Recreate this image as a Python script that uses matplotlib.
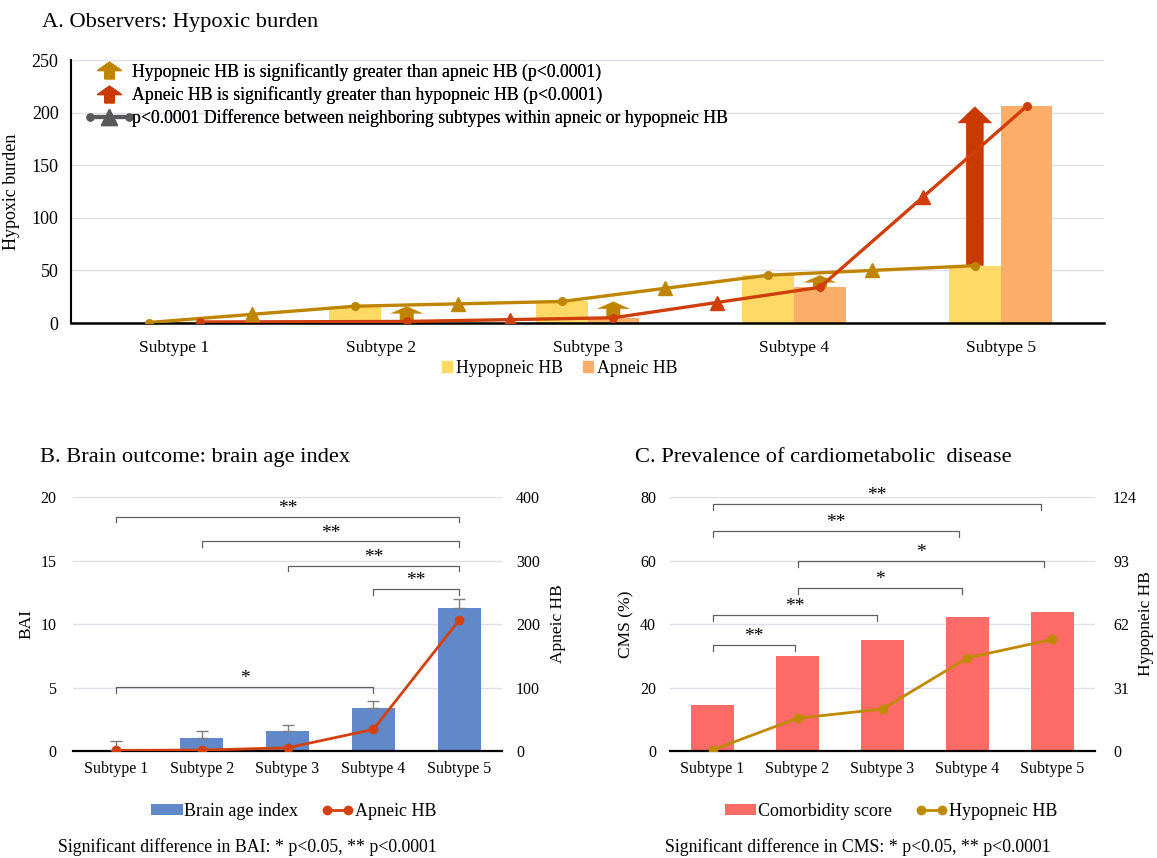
import numpy as np
import matplotlib.pyplot as plt
from matplotlib.lines import Line2D
from matplotlib.patches import Patch
from matplotlib.path import Path
from matplotlib.legend_handler import HandlerBase

plt.rcParams['font.family'] = ['Liberation Serif', 'DejaVu Serif']

subtypes = ["Subtype 1", "Subtype 2", "Subtype 3", "Subtype 4", "Subtype 5"]

# hypoxic burden per subtype
hypopneic_hb = [0.5, 16, 20.5, 45.5, 54.5]
apneic_hb = [1.0, 1.5, 5.0, 34, 206]

# subtypes where one HB type is significantly larger than the other
hypo_greater = [1, 2, 3]
apneic_greater = [4]

# neighbouring subtype steps with p<0.0001
hypo_steps = [(0, 1), (1, 2), (2, 3), (3, 4)]
apneic_steps = [(1, 2), (2, 3), (3, 4)]

# brain age index
bai = [0.1, 1.0, 1.6, 3.4, 11.3]
bai_err = [0.65, 0.55, 0.45, 0.5, 0.7]
bai_pairs = [(0, 4, "**"), (1, 4, "**"), (2, 4, "**"), (3, 4, "**"), (0, 3, "*")]

# comorbidity score (%)
cms = [14.5, 29.8, 35.1, 42.2, 43.9]
cms_pairs = [(0, 4, "**"), (0, 3, "**"), (1, 4, "*"), (1, 3, "*"), (0, 2, "**"), (0, 1, "**")]

HYPO_BAR = "#ffd966"
APNEIC_BAR = "#fdad6a"
HYPO_LINE = "#bf8500"
APNEIC_LINE = "#cf3f0c"
RED_ARROW = "#c93a00"
GRID = "#dcdfe8"
BRACKET = "#606060"


class LineTriangleHandler(HandlerBase):
    def create_artists(self, legend, orig_handle, xdescent, ydescent,
                       width, height, fontsize, trans):
        y = height / 2 - ydescent
        x0, x1 = -xdescent, width - xdescent
        line = Line2D([x0, x1], [y, y], color=orig_handle.get_color(),
                      lw=orig_handle.get_linewidth(), marker="o",
                      markersize=5, transform=trans)
        tri = Line2D([(x0 + x1) / 2], [y], color=orig_handle.get_color(),
                     marker="^", markersize=11, linestyle="none",
                     transform=trans)
        return [line, tri]


def brackets(ax, pairs, heights, drop, text_gap, end_inset=0.0):
    for (i, j, label), h in zip(pairs, heights):
        xe = j - end_inset * (j - i) / 4
        ax.plot([i, i, xe, xe], [h - drop, h, h, h - drop], color=BRACKET,
                lw=0.9, zorder=5)
        ax.text((i + xe) / 2, h + text_gap, label, ha="center", va="center",
                fontsize=14, zorder=5)


fig = plt.figure(figsize=(11.57, 8.58), dpi=100)

# ---------------- A. hypoxic burden ----------------
ax = fig.add_axes([0.0614, 0.6235, 0.8928, 0.3065])
x = np.arange(len(subtypes))
bw = 0.25
x_hypo = x - bw / 2
x_apn = x + bw / 2

ax.bar(x_hypo, hypopneic_hb, bw, color=HYPO_BAR, zorder=2)
ax.bar(x_apn, apneic_hb, bw, color=APNEIC_BAR, zorder=2)

ax.plot(x_hypo, hypopneic_hb, color=HYPO_LINE, lw=2.4, marker="o",
        markersize=5.5, zorder=4)
ax.plot(x_apn, apneic_hb, color=APNEIC_LINE, lw=2.4, marker="o",
        markersize=5.5, zorder=4)

hypo_arr = np.array(hypopneic_hb)
apn_arr = np.array(apneic_hb)
for a, b in hypo_steps:
    ax.plot((x_hypo[a] + x_hypo[b]) / 2, (hypo_arr[a] + hypo_arr[b]) / 2,
            marker="^", markersize=10, color=HYPO_LINE, zorder=5)
for a, b in apneic_steps:
    ax.plot((x_apn[a] + x_apn[b]) / 2, (apn_arr[a] + apn_arr[b]) / 2,
            marker="^", markersize=10, color=APNEIC_LINE, zorder=5)

# arrows start at the smaller bar and point up to the larger value
for i in hypo_greater:
    ax.arrow(x_apn[i], apn_arr[i], 0, hypo_arr[i] - apn_arr[i],
             width=0.068, head_width=0.16, head_length=7,
             length_includes_head=True, color=HYPO_LINE, lw=0, zorder=3)
for i in apneic_greater:
    ax.arrow(x_hypo[i], hypo_arr[i], 0, apn_arr[i] - hypo_arr[i],
             width=0.085, head_width=0.17, head_length=16,
             length_includes_head=True, color=RED_ARROW, lw=0, zorder=3)

ax.set_xlim(-0.5, 4.5)
ax.set_ylim(0, 250)
ax.set_yticks(np.arange(0, 251, 50))
ax.set_xticks(x)
ax.set_xticklabels(subtypes)
ax.tick_params(length=0, labelsize=12.5)
ax.tick_params(axis="x", pad=12)
ax.tick_params(axis="y", pad=9, labelsize=13)
ax.grid(axis="y", color=GRID, lw=1)
ax.set_axisbelow(True)
for s in ["top", "right"]:
    ax.spines[s].set_visible(False)
ax.spines["left"].set_linewidth(1.5)
ax.spines["bottom"].set_linewidth(1.8)
ax.set_ylabel("Hypoxic burden", fontsize=13, labelpad=8)

up_arrow = Path([(-0.2, -0.35), (0.2, -0.35), (0.2, 0.0), (0.5, 0.0),
                 (0.0, 0.35), (-0.5, 0.0), (-0.2, 0.0), (-0.2, -0.35)],
                closed=True)
sig_handles = [
    Line2D([], [], color=HYPO_LINE, marker=up_arrow, markersize=17,
           linestyle="none"),
    Line2D([], [], color=RED_ARROW, marker=up_arrow, markersize=17,
           linestyle="none"),
    Line2D([], [], color="#595959", lw=3),
]
sig_labels = [
    "Hypopneic HB is significantly greater than apneic HB (p<0.0001)",
    "Apneic HB is significantly greater than hypopneic HB (p<0.0001)",
    "p<0.0001 Difference between neighboring subtypes within apneic or hypopneic HB",
]
leg = ax.legend(sig_handles, sig_labels, loc="upper left",
                bbox_to_anchor=(0.018, 0.99), frameon=False, fontsize=12.75,
                handlelength=2.2, handletextpad=0.2, labelspacing=0.3,
                borderpad=0, borderaxespad=0,
                handler_map={sig_handles[2]: LineTriangleHandler()})
ax.add_artist(leg)

fig.legend(handles=[Patch(color=HYPO_BAR), Patch(color=APNEIC_BAR)],
           labels=["Hypopneic HB", "Apneic HB"], loc="center",
           bbox_to_anchor=(0.484, 0.571), ncol=2, frameon=False,
           fontsize=12.75, handlelength=0.55, handleheight=0.55,
           handletextpad=0.25, columnspacing=1.1)

fig.text(0.036, 0.968, "A. Observers: Hypoxic burden", fontsize=16.2,
         va="baseline")

# ---------------- B. brain age index ----------------
axb = fig.add_axes([0.0631, 0.1247, 0.3708, 0.2960])
bars_b = axb.bar(x, bai, 0.5, color="#6189c9", zorder=2)
axb.errorbar(x, bai, yerr=[np.zeros(len(bai)), bai_err], fmt="none",
             ecolor="#7f7f7f", elinewidth=1, capsize=4, capthick=1, zorder=3)
axb.set_xlim(-0.5, 4.5)
axb.set_ylim(0, 20)
axb.set_yticks(np.arange(0, 21, 5))
axb.set_xticks(x)
axb.set_xticklabels(subtypes)
axb.tick_params(length=0, labelsize=11.5)
axb.tick_params(axis="y", pad=12)
axb.tick_params(axis="x", pad=7)
axb.grid(axis="y", color=GRID, lw=1)
axb.set_axisbelow(True)
for s in ["top", "right", "left"]:
    axb.spines[s].set_visible(False)
axb.spines["bottom"].set_linewidth(1.6)
axb.set_ylabel("BAI", fontsize=12.5, labelpad=4)

axb2 = axb.twinx()
line_b, = axb2.plot(x, apneic_hb, color="#d2410f", lw=2, marker="o",
                    markersize=6, zorder=4)
axb2.set_ylim(0, 400)
axb2.set_yticks(np.arange(0, 401, 100))
axb2.tick_params(length=0, labelsize=11.5, pad=10)
for s in ["top", "right", "left", "bottom"]:
    axb2.spines[s].set_visible(False)
axb2.set_ylabel("Apneic HB", fontsize=12.5, labelpad=7)

brackets(axb, bai_pairs, [18.45, 16.5, 14.6, 12.75, 5.05], 0.45, 0.65)

axb.legend([bars_b, line_b], ["Brain age index", "Apneic HB"],
           loc="upper center", bbox_to_anchor=(0.515, -0.14), ncol=2,
           frameon=False, fontsize=13, numpoints=2, handlelength=1.75,
           handleheight=0.55, handletextpad=0.1, columnspacing=1.3)

fig.text(0.035, 0.461, "B. Brain outcome: brain age index", fontsize=16.2,
         va="baseline")
fig.text(0.050, 0.007, "Significant difference in BAI: * p<0.05, ** p<0.0001",
         fontsize=12.75, va="baseline")

# ---------------- C. cardiometabolic disease ----------------
axc = fig.add_axes([0.5791, 0.1247, 0.3673, 0.2960])
bars_c = axc.bar(x, cms, 0.5, color="#ff6b66", zorder=2)
axc.set_xlim(-0.5, 4.5)
axc.set_ylim(0, 80)
axc.set_yticks(np.arange(0, 81, 20))
axc.set_xticks(x)
axc.set_xticklabels(subtypes)
axc.tick_params(length=0, labelsize=11.5)
axc.tick_params(axis="y", pad=10)
axc.tick_params(axis="x", pad=7)
axc.grid(axis="y", color=GRID, lw=1)
axc.set_axisbelow(True)
for s in ["top", "right", "left"]:
    axc.spines[s].set_visible(False)
axc.spines["bottom"].set_linewidth(1.6)
axc.set_ylabel("CMS (%)", fontsize=12.5, labelpad=4)

axc2 = axc.twinx()
line_c, = axc2.plot(x, hypopneic_hb, color="#bf8a00", lw=2, marker="o",
                    markersize=6, zorder=4)
axc2.set_ylim(0, 124)
axc2.set_yticks([0, 31, 62, 93, 124])
axc2.tick_params(length=0, labelsize=11.5, pad=13)
for s in ["top", "right", "left", "bottom"]:
    axc2.spines[s].set_visible(False)
axc2.set_ylabel("Hypopneic HB", fontsize=12.5, labelpad=1)

brackets(axc, cms_pairs, [77.7, 69.3, 59.8, 51.3, 42.7, 33.3], 1.8, 2.7,
         end_inset=0.14)

axc.legend([bars_c, line_c], ["Comorbidity score", "Hypopneic HB"],
           loc="upper center", bbox_to_anchor=(0.52, -0.14), ncol=2,
           frameon=False, fontsize=13, numpoints=2, handlelength=1.75,
           handleheight=0.55, handletextpad=0.1, columnspacing=1.3)

fig.text(0.549, 0.461, "C. Prevalence of cardiometabolic  disease",
         fontsize=16.2, va="baseline")
fig.text(0.5748, 0.007, "Significant difference in CMS: * p<0.05, ** p<0.0001",
         fontsize=12.75, va="baseline")

fig.savefig("out.png", dpi=100)
